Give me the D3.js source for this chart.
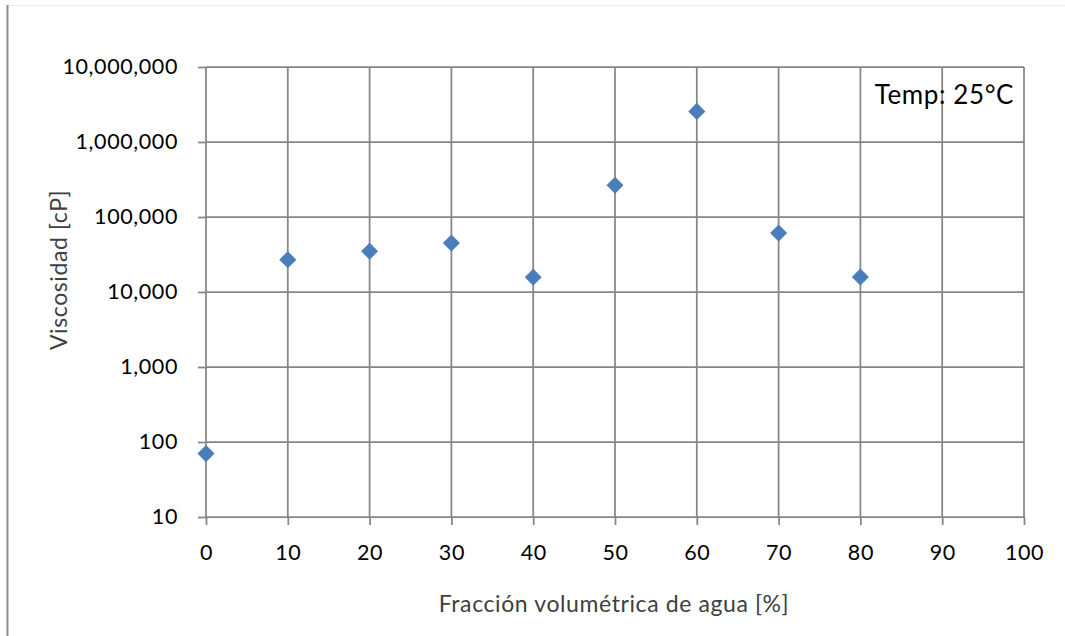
<!DOCTYPE html>
<html>
<head>
<meta charset="utf-8">
<script src="https://cdn.jsdelivr.net/npm/d3@7"></script>
<style>
  html, body { margin: 0; padding: 0; background: #fff; }
  svg text { font-family: Lato, "Open Sans", sans-serif; }
</style>
</head>
<body>
<svg id="chart" width="1065" height="636"></svg>
<script>
// Water volume fraction (%) and measured viscosity (cP) at 25 °C
const fraction = [0, 10, 20, 30, 40, 50, 60, 70, 80];
const viscosity = [70, 27000, 35000, 45000, 15700, 265000, 2560000, 61000, 15800];
const xTicks = [0, 10, 20, 30, 40, 50, 60, 70, 80, 90, 100];
const yTicks = [10, 100, 1000, 10000, 100000, 1000000, 10000000];
const xTitle = "Fracción volumétrica de agua [%]";
const yTitle = "Viscosidad [cP]";
const note = "Temp: 25°C";

const svg = d3.select("#chart");
const plotLeft = 206, plotRight = 1024, plotTop = 67, plotBottom = 517;
const gridColor = "#868686";
const gridWidth = 1.75;

// outer chart frame
svg.append("line").attr("x1", 7).attr("x2", 1065).attr("y1", 5.5).attr("y2", 5.5)
  .attr("stroke", "#ececec").attr("stroke-width", 1);
svg.append("line").attr("x1", 7.5).attr("x2", 7.5).attr("y1", 5).attr("y2", 636)
  .attr("stroke", "#8c8c8c").attr("stroke-width", 2);

const x = d3.scaleLinear().domain([0, 100]).range([plotLeft, plotRight]);
const y = d3.scaleLog().domain([10, 10000000]).range([plotBottom, plotTop]);

// gridlines
svg.append("g").selectAll("line").data(xTicks).join("line")
  .attr("x1", d => x(d)).attr("x2", d => x(d)).attr("y1", plotTop).attr("y2", plotBottom)
  .attr("stroke", gridColor).attr("stroke-width", gridWidth);
svg.append("g").selectAll("line").data(yTicks).join("line")
  .attr("x1", plotLeft).attr("x2", plotRight).attr("y1", d => y(d)).attr("y2", d => y(d))
  .attr("stroke", gridColor).attr("stroke-width", gridWidth);

// axes
const fmt = d3.format(",");
const xAxis = svg.append("g").attr("transform", `translate(0,${plotBottom})`)
  .call(d3.axisBottom(x).tickValues(xTicks).tickSize(8).tickPadding(20).tickFormat(d => d));
const yAxis = svg.append("g").attr("transform", `translate(${plotLeft},0)`)
  .call(d3.axisLeft(y).tickValues(yTicks).tickSize(8).tickPadding(20).tickFormat(fmt));
[xAxis, yAxis].forEach(g => {
  g.select(".domain").remove();
  g.selectAll(".tick line").attr("stroke", gridColor).attr("stroke-width", gridWidth);
  g.selectAll(".tick text").attr("fill", "#000").style("font-size", "21.5px")
    .style("letter-spacing", "0.6px").style("font-family", "Lato, sans-serif");
});

// markers
svg.append("g").selectAll("path").data(fraction.map((f, i) => [f, viscosity[i]])).join("path")
  .attr("d", d3.symbol(d3.symbolSquare, 145))
  .attr("transform", d => `translate(${x(d[0])},${y(d[1])}) rotate(45)`)
  .attr("fill", "#4a7ebb");

// titles
svg.append("text").attr("x", 614).attr("y", 612)
  .attr("text-anchor", "middle").attr("fill", "#404040")
  .style("font-size", "23px").style("letter-spacing", "0.6px").text(xTitle);
svg.append("text").attr("transform", `translate(67,270) rotate(-90)`)
  .attr("text-anchor", "middle").attr("fill", "#404040")
  .style("font-size", "23px").style("letter-spacing", "0.6px").text(yTitle);

svg.append("text").attr("x", 1014).attr("y", 104).attr("text-anchor", "end")
  .attr("fill", "#000").style("font-size", "26px").style("letter-spacing", "0.6px").text(note);
</script>
</body>
</html>
